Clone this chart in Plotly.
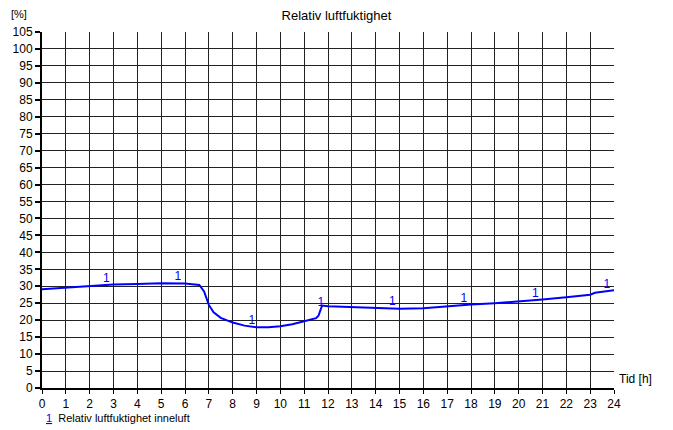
import numpy as np
import plotly.graph_objects as go

hours = [0, 1, 2, 3, 4, 5, 6, 6.5, 6.6, 6.8, 7.0, 7.2, 7.5, 8.0, 8.5, 9.0, 9.5, 10, 10.5, 11,
         11.5, 11.6, 11.75, 12, 13, 14, 15, 16, 16.5, 17, 18, 19, 20, 21, 22, 23, 23.2, 24]
rh = [29.1, 29.6, 30.1, 30.5, 30.7, 30.9, 30.8, 30.6, 30.4, 28.5, 24.5, 22.3, 20.7, 19.3, 18.4, 17.9, 17.9,
      18.2, 18.8, 19.7, 20.6, 21.3, 24.3, 24.1, 23.8, 23.6, 23.4, 23.5, 23.8, 24.1, 24.6, 25.0, 25.5,
      26.1, 26.8, 27.5, 28.1, 28.8]
label_hours = [2.7, 5.7, 8.8, 11.7, 14.7, 17.7, 20.7, 23.7]

x_ticks = list(range(0, 25))
y_ticks = list(range(0, 106, 5))

title = "Relativ luftfuktighet"
series_name = "Relativ luftfuktighet inneluft"
font = "Liberation Sans, Arial, sans-serif"

fig = go.Figure()
fig.add_trace(go.Scatter(x=hours, y=rh, mode="lines",
                         line=dict(color="#0000FF", width=2), showlegend=False, hoverinfo="skip"))
label_y = list(np.interp(label_hours, hours, rh))
fig.add_trace(go.Scatter(x=label_hours, y=label_y, mode="text", text=["1"] * len(label_hours),
                         textposition="top center", textfont=dict(color="#0000FF", size=12, family=font),
                         showlegend=False, hoverinfo="skip"))

fig.update_layout(
    width=673, height=430,
    margin=dict(l=42, r=59, t=32, b=42),
    paper_bgcolor="white", plot_bgcolor="white",
    font=dict(family=font, size=11, color="black"),
    title=dict(text=title, x=0.5, xanchor="center", y=0.965, yanchor="middle",
               font=dict(size=13, family=font, color="black")),
    xaxis=dict(range=[0, 24], tickvals=x_ticks, ticktext=[str(v) for v in x_ticks],
               showgrid=True, gridcolor="#222222", gridwidth=1,
               showline=True, linecolor="black", linewidth=2, mirror=False,
               ticks="outside", ticklen=4, tickwidth=1, tickcolor="black",
               tickfont=dict(size=12, family=font),
               zeroline=False, fixedrange=True, automargin=False),
    yaxis=dict(range=[0, 105], tickvals=y_ticks, ticktext=[str(v) for v in y_ticks],
               showgrid=True, gridcolor="#222222", gridwidth=1,
               showline=True, linecolor="black", linewidth=2,
               ticks="outside", ticklen=5, tickwidth=2, tickcolor="black",
               tickfont=dict(size=12, family=font),
               zeroline=False, fixedrange=True, automargin=False),
    annotations=[
        dict(text="[%]", xref="paper", yref="paper", x=-0.04, y=1.05, xanchor="center", yanchor="middle",
             showarrow=False, font=dict(size=11, family=font)),
        dict(text="Tid [h]", xref="paper", yref="paper", x=1.0, y=0.0, xanchor="left", yanchor="bottom",
             xshift=3, yshift=0, showarrow=False, font=dict(size=12, family=font)),
        dict(text="<span style='color:#0000FF'><u>1</u></span>  " + series_name, xref="paper", yref="paper",
             x=0.0, y=-0.085, xanchor="left", yanchor="middle", xshift=2, showarrow=False,
             font=dict(size=11, family=font)),
    ],
)
fig.write_html("out.html", config={"displayModeBar": False},
               post_script="document.body.style.margin='0';document.body.style.overflow='hidden';")
